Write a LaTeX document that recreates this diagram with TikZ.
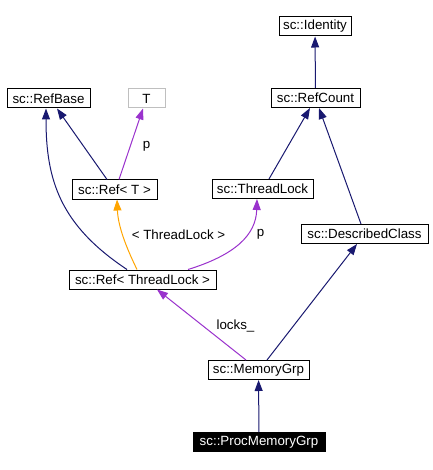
\documentclass[tikz,border=0pt]{standalone}
\usepackage{fontspec}
\setmainfont{Liberation Sans}
\usepackage{tikz}
\usetikzlibrary{arrows.meta,calc}

\definecolor{edgeblue}{HTML}{191970}
\definecolor{edgepurple}{HTML}{9A32CD}
\definecolor{edgeorange}{HTML}{FFA500}
\definecolor{tgrey}{HTML}{BFBFBF}

\begin{document}
\begin{tikzpicture}[x=0.75pt,y=-0.75pt,
  cls/.style={draw=black,line width=0.75pt,minimum height=14.25pt,inner sep=0pt,
    font=\fontsize{10}{12}\selectfont},
  inherit/.style={edgeblue,line width=0.75pt,-{Triangle[length=8.25pt,width=6pt]}},
  usage/.style={edgepurple,line width=0.75pt,-{Triangle[length=8.25pt,width=6pt]}},
  tmpl/.style={edgeorange,line width=0.75pt,-{Triangle[length=8.25pt,width=6pt]}},
  lbl/.style={inner sep=0pt,font=\fontsize{10}{12}\selectfont}]
\useasboundingbox[fill=white] (0,0) rectangle (432,470);

% classes
\node[cls,minimum width=54pt] (identity) at (315,26.5) {sc::Identity};
\node[cls,minimum width=66.75pt] (refcount) at (315.5,98) {sc::RefCount};
\node[cls,minimum width=62.25pt] (refbase) at (48.5,98.5) {sc::RefBase};
\node[cls,draw=tgrey,minimum width=27.75pt] (tparam) at (146.5,98.5) {T};
\node[cls,minimum width=63.75pt] (reft) at (114.5,189.5) {sc::Ref< T >};
\node[cls,minimum width=75.75pt] (threadlock) at (262.5,189) {sc::ThreadLock};
\node[cls,minimum width=95.25pt] (described) at (364.5,234) {sc::DescribedClass};
\node[cls,minimum width=110.25pt] (reftl) at (142.5,279.5) {sc::Ref< ThreadLock >};
\node[cls,minimum width=75.75pt] (memgrp) at (258.5,370) {sc::MemoryGrp};
\node[cls,fill=black,text=white,minimum width=99pt] (procmem) at (259,442) {sc::ProcMemoryGrp};

% connectors
\draw[inherit] (refcount) -- (identity);
\draw[inherit] ($(threadlock.north)+(6.5,0)$) -- ($(refcount.south)+(-5.5,0)$);
\draw[inherit] ($(described.north)+(-3.5,0)$) -- ($(refcount.south)+(3.5,0)$);
\draw[inherit] ($(reft.north)+(-7.5,0)$) -- ($(refbase.south)+(8.5,0)$);
\draw[usage] ($(reft.north)+(4.5,0)$) -- ($(tparam.south)+(-3.5,0)$);
\draw[inherit] ($(reftl.north)+(-15.5,0)$) .. controls (60,225) and (46,180) .. ($(refbase.south)+(-2.5,0)$);
\draw[tmpl] ($(reftl.north)+(-5.5,0)$) .. controls (125,245) and (118,225) .. ($(reft.south)+(2.5,0)$);
\draw[usage] ($(reftl.north)+(45.5,0)$) .. controls (235,255) and (256,235) .. ($(threadlock.south)+(-5.5,0)$);
\draw[usage] ($(memgrp.north)+(-12.5,0)$) -- ($(reftl.south)+(14.5,0)$);
\draw[inherit] ($(memgrp.north)+(8.5,0)$) -- ($(described.south)+(-7.5,0)$);
\draw[inherit] (procmem) -- (memgrp);

% labels
\node[lbl] (lblp) at (146.5,146) {p};
\node[lbl] (lbltl) at (178.5,234.5) {< ThreadLock >};
\node[lbl] (lblptl) at (260.5,234.5) {p};
\node[lbl] (lbllocks) at (235.5,326) {locks\_};
\end{tikzpicture}
\end{document}
